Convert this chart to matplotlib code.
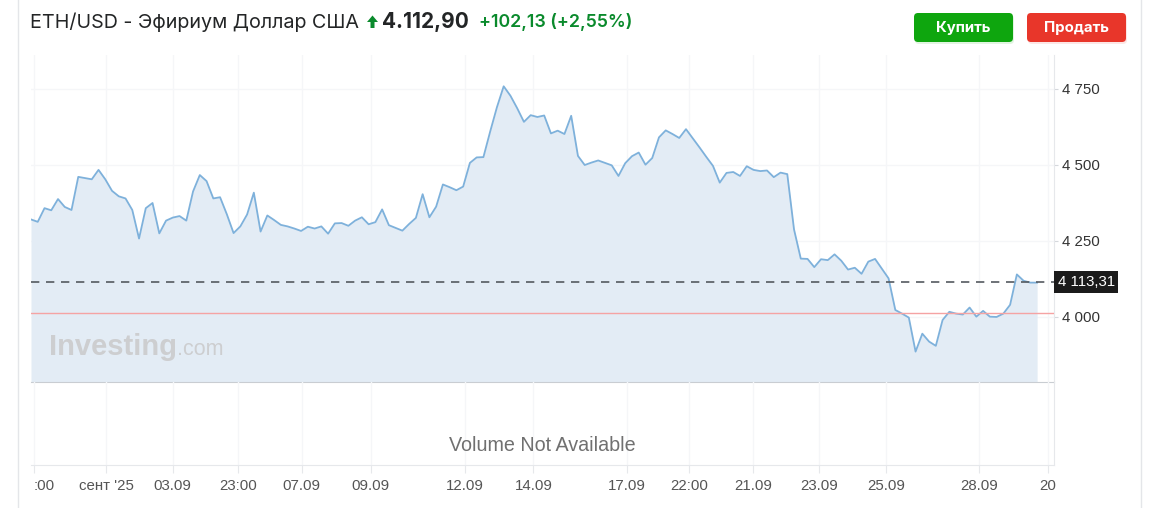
import matplotlib
matplotlib.use("Agg")
import matplotlib.pyplot as plt
from matplotlib.patches import FancyBboxPatch, Polygon
import numpy as np

# ---------------- data ----------------
prices = [
    4320, 4312, 4357, 4350, 4387, 4361, 4351, 4460, 4456, 4452,
    4483, 4452, 4414, 4396, 4389, 4351, 4257, 4357, 4374, 4274,
    4316, 4326, 4331, 4316, 4412, 4466, 4446, 4389, 4393, 4337,
    4275, 4297, 4336, 4408, 4280, 4333, 4318, 4302, 4297, 4290,
    4282, 4296, 4290, 4297, 4273, 4307, 4308, 4299, 4316, 4327,
    4304, 4311, 4353, 4301, 4292, 4283, 4305, 4325, 4403, 4327,
    4362, 4435, 4426, 4416, 4428, 4506, 4524, 4525, 4609, 4689,
    4758, 4727, 4686, 4641, 4663, 4657, 4662, 4603, 4612, 4601,
    4661, 4529, 4499, 4507, 4514, 4506, 4498, 4463, 4505, 4528,
    4540, 4500, 4522, 4590, 4613, 4601, 4588, 4617, 4587, 4557,
    4526, 4496, 4441, 4473, 4476, 4463, 4495, 4483, 4479, 4481,
    4459, 4474, 4469, 4287, 4191, 4190, 4163, 4189, 4186, 4205,
    4184, 4155, 4161, 4141, 4181, 4190, 4158, 4126, 4022, 4010,
    3997, 3885, 3944, 3918, 3904, 3989, 4016, 4010, 4007, 4030,
    4000, 4019, 4000, 3999, 4010, 4039, 4139, 4118, 4112, 4112,
]
last_price = 4113.31
prev_close = 4010.77
y_ticks = [4000, 4250, 4500, 4750]
y_tick_labels = ["4 000", "4 250", "4 500", "4 750"]
x_tick_pos = [0.44, 11.1, 21.0, 30.6, 40.1, 50.3, 64.3, 74.4, 88.2, 97.5,
              106.95, 116.7, 126.6, 140.4, 150.6]
x_tick_labels = [":00", "сент '25", "03.09", "23:00", "07.09", "09.09", "12.09",
                 "14.09", "17.09", "22:00", "21.09", "23.09", "25.09", "28.09", "20"]
title = "ETH/USD - Эфириум Доллар США"
price_text = "4.112,90"
change_text = "+102,13 (+2,55%)"
last_label = "4 113,31"

W, H = 1161, 508
fig = plt.figure(figsize=(W / 100, H / 100), dpi=100)
fig.patch.set_facecolor("white")

# background / layout axes in pixel coordinates
bg = fig.add_axes([0, 0, 1, 1], zorder=0)
bg.set_xlim(0, W)
bg.set_ylim(H, 0)
bg.axis("off")

# card borders
bg.plot([18, 18], [0, H], color="#e4e6e9", lw=1)
bg.plot([1141, 1141], [0, H], color="#e4e6e9", lw=1)

# title
tfont = ["Inter", "DejaVu Sans"]
green = "#0a8a2c"
t1 = bg.text(30, 22, title, fontsize=14.2, color="#232526", va="center", ha="left",
             family=tfont)
fig.canvas.draw()
r = fig.canvas.get_renderer()
bb = t1.get_window_extent(r)
ax0 = bb.x1 + 8
# up arrow (filled)
arrow = Polygon([(ax0, 22), (ax0 + 5.5, 15.5), (ax0 + 11, 22), (ax0 + 7.5, 22),
                 (ax0 + 7.5, 28), (ax0 + 3.5, 28), (ax0 + 3.5, 22)],
                closed=True, facecolor=green, edgecolor="none")
bg.add_patch(arrow)
t3 = bg.text(ax0 + 15, 22, price_text, fontsize=15, color="#232526",
             va="center", ha="left", family=tfont, fontweight="bold")
bb3 = t3.get_window_extent(r)
bg.text(bb3.x1 + 10, 22, change_text, fontsize=12.8, color=green,
        va="center", ha="left", family=tfont, fontweight="semibold")

# buttons
for (x0, col, lab) in [(914, "#0ea60e", "Купить"), (1027, "#e8362a", "Продать")]:
    shadow = FancyBboxPatch((x0 + 1, 15), 99, 29, boxstyle="round,pad=0,rounding_size=4",
                            facecolor=col, edgecolor="none", alpha=0.12, zorder=1)
    bg.add_patch(shadow)
    btn = FancyBboxPatch((x0, 13), 99, 29, boxstyle="round,pad=0,rounding_size=4",
                         facecolor=col, edgecolor="none", zorder=2)
    bg.add_patch(btn)
    bg.text(x0 + 49.5, 28, lab, color="white", fontsize=10.8, fontweight="bold",
            ha="center", va="center", family=tfont, zorder=3)

# ---------------- price pane ----------------
L, R = 31, 1054
top, mid, bot = 55, 382, 465
ax = fig.add_axes([L / W, 1 - mid / H, (R - L) / W, (mid - top) / H], zorder=2)
axv = fig.add_axes([L / W, 1 - bot / H, (R - L) / W, (bot - mid) / H], zorder=2,
                   sharex=ax)
for a in (ax, axv):
    a.set_facecolor("none")
    for s in a.spines.values():
        s.set_visible(False)

x = np.arange(len(prices))
ylo, yhi = 3785, 4861
ax.set_xlim(0, 151.5)
ax.set_ylim(ylo, yhi)
ax.fill_between(x, prices, ylo, color="#e3ecf5", zorder=1, lw=0)
ax.plot(x, prices, color="#7eb1db", lw=1.3, zorder=3)

# grids
gcol = "#f5f6f8"
for yt in y_ticks:
    ax.axhline(yt, color=gcol, lw=1, zorder=0.5)
for xt in x_tick_pos:
    ax.axvline(xt, color=gcol, lw=1, zorder=0.5)
    axv.axvline(xt, color=gcol, lw=1, zorder=0.5)

ax.axhline(prev_close, color="#f5a3a3", lw=1, zorder=4)
ax.axhline(last_price, color="#555a60", lw=1.2, ls=(0, (5, 4)), zorder=4)

# separators
ax.spines["bottom"].set_visible(True)
ax.spines["bottom"].set_color("#c9cdd2")
ax.spines["right"].set_visible(True)
ax.spines["right"].set_color("#e6e8eb")
axv.spines["right"].set_visible(True)
axv.spines["right"].set_color("#e6e8eb")
axv.spines["bottom"].set_visible(True)
axv.spines["bottom"].set_color("#e6e8eb")

# y axis
ax.yaxis.tick_right()
ax.set_yticks(y_ticks)
ax.set_yticklabels(y_tick_labels)
ax.tick_params(axis="y", length=3, pad=3, color="#d5d8dc", labelsize=10.8,
               labelcolor="#333333")
for lab in ax.get_yticklabels():
    lab.set_family(["Liberation Sans", "DejaVu Sans"])
ax.tick_params(axis="x", bottom=False, labelbottom=False)

# last price label
ax.text(1.0035, last_price, last_label, transform=ax.get_yaxis_transform(),
        ha="left", va="center", color="white", fontsize=10.8,
        family=["Liberation Sans", "DejaVu Sans"], clip_on=False, zorder=6,
        bbox=dict(boxstyle="square,pad=0.25", facecolor="#1b1b1b", edgecolor="none"))

# watermark
wy = 0.083
wm = ax.text(0.018, wy, "Investing", transform=ax.transAxes, fontsize=21,
             fontweight="bold", color="#cdced0", ha="left", va="baseline",
             family=["Liberation Sans", "DejaVu Sans"], zorder=2)
fig.canvas.draw()
wbb = wm.get_window_extent(fig.canvas.get_renderer())
inv = ax.transAxes.inverted()
wx = inv.transform((wbb.x1, wbb.y0))[0]
ax.text(wx, wy, ".com", transform=ax.transAxes, fontsize=15.5, color="#cdced0",
        ha="left", va="baseline", family=["Liberation Sans", "DejaVu Sans"], zorder=2)

# ---------------- volume pane ----------------
axv.set_ylim(0, 1)
axv.set_yticks([])
axv.text(0.5, 0.24, "Volume Not Available", transform=axv.transAxes, ha="center",
         va="center", fontsize=14.2, color="#707070",
         family=["Liberation Sans", "DejaVu Sans"])
axv.set_xticks(x_tick_pos)
axv.set_xticklabels(x_tick_labels)
axv.tick_params(axis="x", length=6, color="#e6e8eb", pad=4, labelsize=10.8,
                labelcolor="#555555")
for i, lab in enumerate(axv.get_xticklabels()):
    lab.set_family(["Liberation Sans", "DejaVu Sans"])
    if i == 0:
        lab.set_ha("left")
        lab.set_x(0.15)

fig.savefig("out.png", dpi=100, facecolor="white")
